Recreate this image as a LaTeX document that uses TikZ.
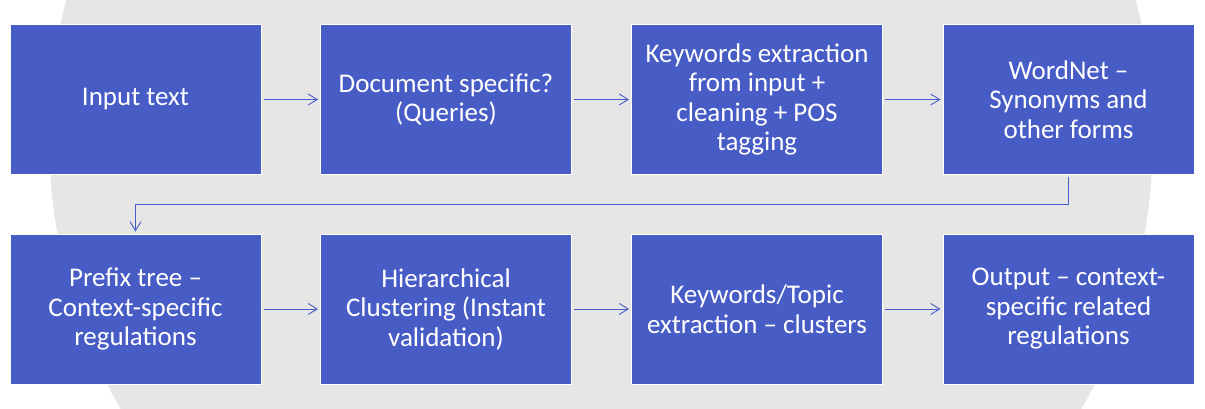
\documentclass[tikz,border=0pt]{standalone}
\usepackage{fontspec}
\setmainfont{Carlito}
\usetikzlibrary{arrows.meta}
\definecolor{boxblue}{RGB}{72,92,198}
\definecolor{backgray}{RGB}{231,230,230}

\begin{document}
\begin{tikzpicture}[x=1pt,y=-1pt,
		box/.style={fill=boxblue,draw=white,line width=1pt,minimum width=251pt,minimum height=150pt,align=center,text=white,font=\fontsize{27}{29.5}\selectfont},
		flow/.style={draw=boxblue,line width=0.9pt,-{Straight Barb[length=9pt,width=11pt]},shorten <=2pt,shorten >=2pt}]
		\useasboundingbox (0,0) rectangle (1205,409);
		\fill[backgray] (601,137) circle (552pt);
		
		\node[box] (input) at (135.5,99.5) {Input text};
		\node[box] (query) at (446,99.5) {Document specific?\\(Queries)};
		\node[box] (keyword) at (757,99.5) {Keywords extraction\\from input +\\cleaning + POS\\tagging};
		\node[box] (wordnet) at (1068.5,99.5) {WordNet --\\Synonyms and\\other forms};
		\node[box] (prefix) at (135.5,309) {Prefix tree --\\Context-specific\\regulations};
		\node[box] (cluster) at (446,309) {Hierarchical\\Clustering (Instant\\validation)};
		\node[box] (topic) at (757,309) {Keywords/Topic\\extraction -- clusters};
		\node[box] (output) at (1068.5,309) {Output -- context-\\specific related\\regulations};
		
		\draw[flow] (input) -- (query);
		\draw[flow] (query) -- (keyword);
		\draw[flow] (keyword) -- (wordnet);
		\draw[flow] (wordnet.south) -- ++(0,29) -| (prefix.north);
		\draw[flow] (prefix) -- (cluster);
		\draw[flow] (cluster) -- (topic);
		\draw[flow] (topic) -- (output);
	\end{tikzpicture}
\end{document}
